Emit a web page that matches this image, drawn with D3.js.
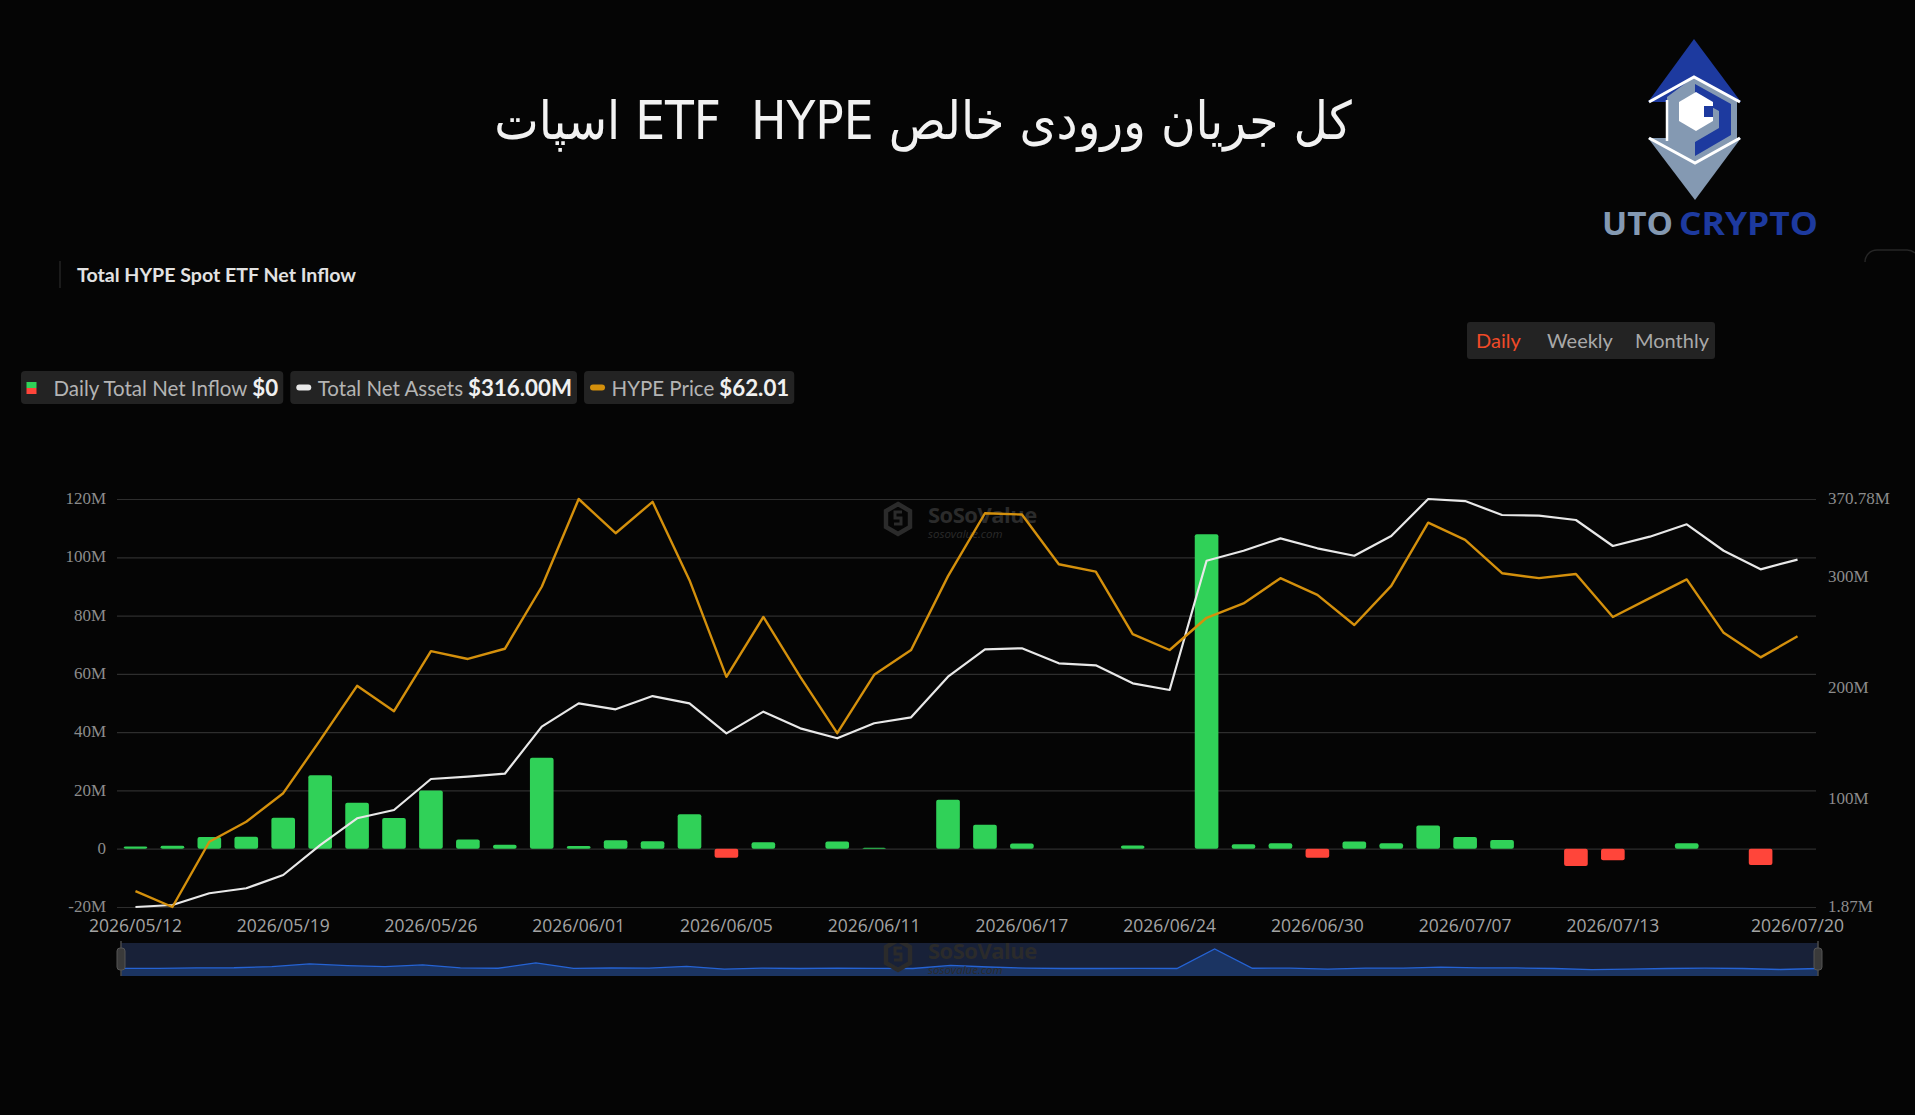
<!DOCTYPE html>
<html>
<head>
<meta charset="utf-8">
<script src="https://cdn.jsdelivr.net/npm/d3@7/dist/d3.min.js"></script>
<style>
  body { margin: 0; background: #050505; overflow: hidden; }
  svg { display: block; }
</style>
</head>
<body>
<div id="chart"></div>
<script>
// data (inflow / assets in $M, price in $)
const dates = [
  '2026/05/12', '2026/05/14', '2026/05/15', '2026/05/18', '2026/05/19', '2026/05/20', '2026/05/21', '2026/05/22',
  '2026/05/26', '2026/05/27', '2026/05/28', '2026/05/29', '2026/06/01', '2026/06/02', '2026/06/03', '2026/06/04',
  '2026/06/05', '2026/06/08', '2026/06/09', '2026/06/10', '2026/06/11', '2026/06/12', '2026/06/15', '2026/06/16',
  '2026/06/17', '2026/06/18', '2026/06/22', '2026/06/23', '2026/06/24', '2026/06/25', '2026/06/26', '2026/06/29',
  '2026/06/30', '2026/07/01', '2026/07/02', '2026/07/06', '2026/07/07', '2026/07/08', '2026/07/09', '2026/07/10',
  '2026/07/13', '2026/07/14', '2026/07/15', '2026/07/16', '2026/07/17', '2026/07/20'
];
const netInflow = [
  0.8, 1.0, 4.0, 4.1, 10.6, 25.2, 15.8, 10.5, 20.0, 3.2, 1.4, 31.2, 0.9, 2.9, 2.6, 11.8,
  -3.1, 2.2, 0, 2.5, 0.3, 0, 16.8, 8.2, 1.8, 0, 0, 1.1, 0, 107.9, 1.5, 1.9,
  -3.1, 2.5, 1.9, 8.0, 4.0, 3.0, 0, -5.9, -4.0, 0, 1.9, 0, -5.6, 0
];
const netAssets = [
  1.87, 3.7, 14.3, 18.8, 30.8, 57.9, 82.1, 89.6, 117.6, 119.7, 122.4, 164.9, 186.0, 180.6, 192.6, 186.0,
  158.9, 178.5, 163.4, 154.4, 168.0, 173.4, 210.1, 234.8, 235.8, 222.2, 220.4, 204.1, 198.1, 315.0, 324.0, 335.2,
  326.2, 319.5, 337.3, 370.78, 368.9, 356.3, 355.7, 351.8, 328.3, 336.7, 347.9, 324.0, 307.2, 316.0
];
const hypePrice = [
  36.78, 35.20, 41.66, 43.64, 46.47, 51.72, 57.10, 54.59, 60.53, 59.76, 60.77, 66.91, 75.60, 72.21, 75.32, 67.56,
  57.99, 63.92, 57.99, 52.41, 58.19, 60.65, 67.96, 74.19, 74.06, 69.14, 68.41, 62.23, 60.65, 63.84, 65.26, 67.76,
  66.11, 63.12, 67.00, 73.26, 71.56, 68.25, 67.76, 68.17, 63.92, 65.78, 67.64, 62.35, 59.92, 62.01
];
const leftTicks = [-20, 0, 20, 40, 60, 80, 100, 120];
const rightTicks = [1.87, 100, 200, 300, 370.78];
const xTickLabels = [
  '2026/05/12', '2026/05/19', '2026/05/26', '2026/06/01', '2026/06/05', '2026/06/11',
  '2026/06/17', '2026/06/24', '2026/06/30', '2026/07/07', '2026/07/13', '2026/07/20'
];
const periods = ['Daily', 'Weekly', 'Monthly'];
const faTitle = 'کل جریان ورودی خالص ETF  HYPE اسپات';

const
  W = 1915,
  H = 1115,
  pad = { left: 117, right: 1816, top: 499, bottom: 907 },
  colors = {
    bg: '#050505', grid: '#2e2e2e', tick: '#8c8c8c', xtick: '#a3a3a3',
    green: '#30d158', red: '#ff453a', white: '#e8e8e8', orange: '#d4900c',
    box: '#232323', blue: '#1d3a9f', steel: '#8499b2'
  },
  uiFont = 'Lato, "Open Sans", sans-serif';

let
  svg, x, yL, yR, yP, bw, cx, g, lineA, lineP, legendX;

svg = d3.select('#chart')
  .append('svg')
  .attr('width', W)
  .attr('height', H)
  .style('background', colors.bg);

// persian heading
svg.append('text')
  .attr('x', 923)
  .attr('y', 139)
  .attr('text-anchor', 'middle')
  .attr('direction', 'rtl')
  .style('white-space', 'pre')
  .attr('font-family', '"DejaVu Sans Condensed", "DejaVu Sans", sans-serif')
  .attr('font-stretch', 'condensed')
  .attr('font-size', 52.5)
  .attr('fill', '#f2f2f2')
  .text(faTitle);

// logo
drawLogo(svg);

// chart header
svg.append('line')
  .attr('x1', 60).attr('x2', 60)
  .attr('y1', 261).attr('y2', 288)
  .attr('stroke', '#333');

svg.append('text')
  .attr('x', 77)
  .attr('y', 282)
  .attr('font-family', uiFont)
  .attr('font-weight', 700)
  .attr('font-size', 19.6)
  .attr('fill', '#e2e2e2')
  .text('Total HYPE Spot ETF Net Inflow');

// corner of a button cut off by the right edge
svg.append('path')
  .attr('d', 'M1865,262a12,12 0 0 1 12,-12h30a12,12 0 0 1 8,3')
  .attr('fill', 'none')
  .attr('stroke', '#262626')
  .attr('stroke-width', 1.5);

// period switch
svg.append('rect')
  .attr('x', 1467).attr('y', 322)
  .attr('width', 248).attr('height', 37)
  .attr('rx', 3)
  .attr('fill', colors.box);

svg.selectAll('.period')
  .data(periods)
  .enter().append('text')
  .attr('class', 'period')
  .attr('x', function (d, i) { return [1476, 1547, 1635][i]; })
  .attr('y', 348)
  .attr('font-family', uiFont)
  .attr('font-size', 20)
  .attr('fill', function (d, i) { return i === 0 ? '#f04a28' : '#a9a9a9'; })
  .text(String);

// legend
legendX = drawLegendItem(21, 'flow', 'Daily Total Net Inflow', '$0');
legendX = drawLegendItem(legendX + 7, colors.white, 'Total Net Assets', '$' + d3.format('.2f')(netAssets[netAssets.length - 1]) + 'M');
drawLegendItem(legendX + 7, colors.orange, 'HYPE Price', '$' + d3.format('.2f')(hypePrice[hypePrice.length - 1]));

// scales
x = d3.scaleBand()
  .domain(dates)
  .range([pad.left, pad.right])
  .paddingInner(0.36)
  .paddingOuter(0.18);

bw = x.bandwidth();
cx = function (d) { return x(d) + bw / 2; };

yL = d3.scaleLinear().domain([-20, 120]).range([pad.bottom, pad.top]);
yR = d3.scaleLinear().domain(d3.extent(netAssets)).range([pad.bottom, pad.top]);
yP = d3.scaleLinear().domain(d3.extent(hypePrice)).range([pad.bottom, pad.top]);

// grid lines + left labels
g = svg.append('g')
  .attr('transform', 'translate(' + pad.left + ',0)')
  .call(d3.axisLeft(yL)
    .tickValues(leftTicks)
    .tickSize(-(pad.right - pad.left))
    .tickPadding(11)
    .tickFormat(function (d) { return d === 0 ? '0' : d + 'M'; }));

g.select('.domain').remove();
g.selectAll('line').attr('stroke', colors.grid).attr('stroke-width', 1.2);
g.selectAll('text')
  .attr('dy', '0.27em')
  .attr('fill', colors.tick)
  .attr('font-family', '"Liberation Serif", "Times New Roman", serif')
  .attr('font-size', 17);

// right labels
g = svg.append('g')
  .attr('transform', 'translate(' + pad.right + ',0)')
  .call(d3.axisRight(yR)
    .tickValues(rightTicks)
    .tickSize(0)
    .tickPadding(12)
    .tickFormat(function (d) { return (d % 1 ? d3.format('.2f')(d) : d) + 'M'; }));

g.select('.domain').remove();
g.selectAll('text')
  .attr('dy', '0.27em')
  .attr('fill', colors.tick)
  .attr('font-family', '"Liberation Serif", "Times New Roman", serif')
  .attr('font-size', 17);

// x labels
g = svg.append('g')
  .attr('transform', 'translate(0,' + pad.bottom + ')')
  .call(d3.axisBottom(x)
    .tickValues(xTickLabels)
    .tickSize(0)
    .tickPadding(12.5));

g.select('.domain').remove();
g.selectAll('text')
  .attr('fill', colors.xtick)
  .attr('font-family', '"Open Sans", "Noto Sans", sans-serif')
  .attr('font-size', 17.5);

// watermark
drawWatermark(svg, 885, 503, 1);

// bars
svg.append('g')
  .selectAll('rect')
  .data(dates)
  .enter().append('rect')
  .attr('x', function (d) { return x(d); })
  .attr('y', function (d, i) { return yL(Math.max(0, netInflow[i])); })
  .attr('width', bw)
  .attr('height', function (d, i) { return Math.abs(yL(netInflow[i]) - yL(0)); })
  .attr('rx', 2)
  .attr('fill', function (d, i) { return netInflow[i] < 0 ? colors.red : colors.green; });

// lines
lineA = d3.line()
  .x(function (d) { return cx(d); })
  .y(function (d, i) { return yR(netAssets[i]); });

lineP = d3.line()
  .x(function (d) { return cx(d); })
  .y(function (d, i) { return yP(hypePrice[i]); });

drawLine(svg, dates, lineA, colors.white, 2.2);
drawLine(svg, dates, lineP, colors.orange, 2.4);

// navigator
drawNavigator(svg);

function drawLine(g, data, line, color, width) {
  g.append('path')
    .datum(data)
    .attr('fill', 'none')
    .attr('stroke', color)
    .attr('stroke-linejoin', 'round')
    .attr('stroke-width', width)
    .attr('d', line);
}

function drawLegendItem(x0, icon, label, value) {
  let
    item = svg.append('g'),
    box = item.append('rect'),
    txt,
    bb,
    end;

  if (icon === 'flow') {
    item.append('rect').attr('x', x0 + 5.5).attr('y', 382).attr('width', 10).attr('height', 6).attr('fill', colors.green);
    item.append('rect').attr('x', x0 + 5.5).attr('y', 388).attr('width', 10).attr('height', 6).attr('fill', colors.red);
  } else {
    item.append('rect').attr('x', x0 + 6).attr('y', 384.5).attr('width', 15).attr('height', 6).attr('rx', 3).attr('fill', icon);
  }

  txt = item.append('text')
    .attr('x', x0 + (icon === 'flow' ? 32.5 : 27.5))
    .attr('y', 395.5)
    .attr('font-family', uiFont);

  txt.append('tspan')
    .attr('font-size', 20.5)
    .attr('fill', '#b4b4b4')
    .text(label);

  txt.append('tspan')
    .attr('dx', 5)
    .attr('font-size', 22.3)
    .attr('font-weight', 700)
    .attr('fill', '#f0f0f0')
    .text(value);

  bb = txt.node().getBBox();
  end = bb.x + bb.width + 5;

  box.attr('x', x0).attr('y', 371)
    .attr('width', end - x0).attr('height', 33)
    .attr('rx', 4)
    .attr('fill', colors.box);

  return end;
}

function drawWatermark(g, x0, y0, op) {
  let wm = g.append('g').attr('opacity', op);

  // cube icon
  wm.append('path')
    .attr('d', 'M' + (x0 + 13) + ',' + (y0 + 1) + 'l12,7v16l-12,7l-12,-7v-16z')
    .attr('fill', 'none')
    .attr('stroke', '#2b2b2b')
    .attr('stroke-width', 4.5);

  wm.append('path')
    .attr('d', 'M' + (x0 + 17) + ',' + (y0 + 9) + 'h-7v6h6v6h-7')
    .attr('fill', 'none')
    .attr('stroke', '#2b2b2b')
    .attr('stroke-width', 3);

  wm.append('text')
    .attr('x', x0 + 43).attr('y', y0 + 20)
    .attr('font-family', '"Open Sans", sans-serif')
    .attr('font-weight', 700)
    .attr('font-size', 22)
    .attr('letter-spacing', -0.5)
    .attr('fill', '#2b2b2b')
    .text('SoSoValue');

  wm.append('text')
    .attr('x', x0 + 43).attr('y', y0 + 35)
    .attr('font-family', '"Open Sans", sans-serif')
    .attr('font-style', 'italic')
    .attr('font-size', 11.5)
    .attr('fill', '#2b2b2b')
    .text('sosovalue.com');
}

function drawNavigator(g) {
  let
    nav = g.append('g'),
    left = 121,
    right = 1818,
    top = 943,
    bottom = 976,
    nx = d3.scaleLinear().domain([0, dates.length - 1]).range([left, right]),
    ny = d3.scaleLinear().domain([0, d3.max(netInflow)]).range([968.5, 949]),
    area,
    line;

  nav.append('defs').append('clipPath')
    .attr('id', 'navclip')
    .append('rect')
    .attr('x', left).attr('y', top)
    .attr('width', right - left).attr('height', bottom - top);

  nav.append('rect')
    .attr('x', left).attr('y', top)
    .attr('width', right - left).attr('height', bottom - top)
    .attr('fill', '#182138');

  area = d3.area()
    .x(function (d, i) { return nx(i); })
    .y0(bottom)
    .y1(function (d) { return ny(d); });

  line = d3.line()
    .x(function (d, i) { return nx(i); })
    .y(function (d) { return ny(d); });

  nav.append('path')
    .datum(netInflow)
    .attr('fill', '#1b3462')
    .attr('d', area);

  nav.append('path')
    .datum(netInflow)
    .attr('fill', 'none')
    .attr('stroke', '#2563d4')
    .attr('stroke-width', 1.3)
    .attr('d', line);

  drawWatermark(nav.append('g').attr('clip-path', 'url(#navclip)'), 885, 939, 1);

  // handles
  [left, right].forEach(function (hx) {
    nav.append('line')
      .attr('x1', hx).attr('x2', hx)
      .attr('y1', top - 2).attr('y2', bottom)
      .attr('stroke', '#4a4a4a')
      .attr('stroke-width', 1.5);

    nav.append('rect')
      .attr('x', hx - 4).attr('y', 948)
      .attr('width', 8).attr('height', 22)
      .attr('rx', 3)
      .attr('fill', '#3a3a3a')
      .attr('stroke', '#555');
  });
}

function drawLogo(g) {
  let logo = g.append('g');

  // upper blue point and lower steel point
  logo.append('path').attr('d', 'M1694,39L1741,102L1648,102Z').attr('fill', colors.blue);
  logo.append('path').attr('d', 'M1648,138L1741,138L1695,200Z').attr('fill', colors.steel);

  // hexagon body
  logo.append('path')
    .attr('d', 'M1694,77L1737,101L1737,138L1695,163L1667,147L1667,97Z')
    .attr('fill', colors.steel);

  // blue C ring, right half
  logo.append('path')
    .attr('d', 'M1695,84L1731,104L1731,135L1695,156L1695,142L1719,128L1719,111L1695,98Z')
    .attr('fill', colors.blue);

  // inner white cube
  logo.append('path')
    .attr('d', 'M1696,92L1713,102L1713,121L1696,131L1679,121L1679,102Z')
    .attr('fill', '#ffffff');

  logo.append('path')
    .attr('d', 'M1704,106L1713,106L1713,117L1704,117Z')
    .attr('fill', colors.blue);

  // white strokes
  logo.append('path')
    .attr('d', 'M1649,102L1694,77L1740,102')
    .attr('fill', 'none').attr('stroke', '#ffffff').attr('stroke-width', 3);

  logo.append('path')
    .attr('d', 'M1649,138L1695,163L1740,138')
    .attr('fill', 'none').attr('stroke', '#ffffff').attr('stroke-width', 3);

  logo.append('path')
    .attr('d', 'M1667,100L1667,141')
    .attr('fill', 'none').attr('stroke', '#ffffff').attr('stroke-width', 2.5);

  logo.append('text')
    .attr('x', 1602).attr('y', 235)
    .attr('font-family', '"Open Sans", Lato, sans-serif')
    .attr('font-weight', 700)
    .attr('font-size', 33)
    .attr('textLength', 71)
    .attr('lengthAdjust', 'spacingAndGlyphs')
    .attr('fill', colors.steel)
    .text('UTO');

  logo.append('text')
    .attr('x', 1679).attr('y', 235)
    .attr('font-family', '"Open Sans", Lato, sans-serif')
    .attr('font-weight', 700)
    .attr('font-size', 33)
    .attr('textLength', 139)
    .attr('lengthAdjust', 'spacingAndGlyphs')
    .attr('fill', colors.blue)
    .text('CRYPTO');
}
</script>
</body>
</html>
